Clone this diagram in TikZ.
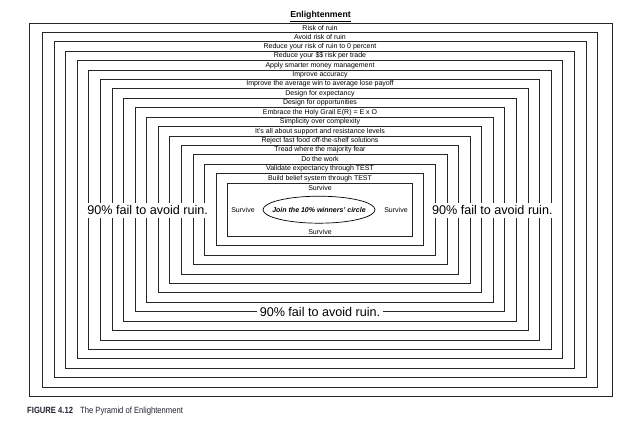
\documentclass[tikz,border=0pt]{standalone}
\usepackage{fontspec}
\setmainfont{Liberation Sans}
\newfontfamily\capfont[FakeStretch=0.85]{Liberation Sans}
\usetikzlibrary{positioning}
\definecolor{capdark}{HTML}{222233}

\begin{document}
\begin{tikzpicture}[x=1pt,y=-1pt,
    every node/.style={font=\fontsize{7}{8}\selectfont, inner sep=0pt},
    frame/.style={draw=black!85, line width=0.8pt},
    ruin/.style={fill=white, inner sep=2.5pt, font=\fontsize{12.6}{14}\selectfont}]
  \useasboundingbox (0,0) rectangle (625,431);
  % frames, outside in
  \draw[frame] (29,23) rectangle (612,396.7);
  \foreach \i in {2,...,18}{
    \pgfmathsetmacro{\hw}{277.5-11.58*(\i-2)}
    \pgfmathsetmacro{\hh}{186.85-9.43*(\i-1)}
    \draw[frame] (320-\hw,209.7-\hh) rectangle (320+\hw,209.7+\hh);
  }
  % steps
  \node[font=\bfseries\fontsize{8.7}{10}\selectfont] (title) at (320.5,16.3) {\underline{Enlightenment}};
  \foreach \txt [count=\i] in {Risk of ruin, Avoid risk of ruin,
      Reduce your risk of ruin to 0 percent, Reduce your \$\$ risk per trade,
      Apply smarter money management, Improve accuracy,
      Improve the average win to average lose payoff, Design for expectancy,
      Design for opportunities, Embrace the Holy Grail E(R) = E x O,
      Simplicity over complexity, It's all about support and resistance levels,
      Reject fast food off-the-shelf solutions, Tread where the majority fear,
      Do the work, Validate expectancy through TEST,
      Build belief system through TEST}{
    \node (band\i) at (320,{27.7+9.41*(\i-1)}) {\txt};
  }
  % centre
  \node (survT) at (320,187.8) {Survive};
  \node (survB) at (320,231.6) {Survive};
  \node (survL) at (243,209.7) {Survive};
  \node (survR) at (396,209.7) {Survive};
  \node[font=\bfseries\itshape\fontsize{7}{8}\selectfont] (winners) at (319,209.7) {Join the 10\% winners' circle};
  \draw[line width=0.7pt] (winners.center) ellipse [x radius=56, y radius=13.5];
  % ruin
  \node[ruin] (ruinL) at (147.7,210.4) {90\% fail to avoid ruin.};
  \node[ruin] (ruinR) at (492.3,210.4) {90\% fail to avoid ruin.};
  \node[ruin] (ruinB) at (320,312.2) {90\% fail to avoid ruin.};
  \node[anchor=west, text=capdark, font=\capfont\fontsize{9}{10}\selectfont] (caption) at (27,411)
    {\textbf{FIGURE 4.12}\hspace{7pt}The Pyramid of Enlightenment};
\end{tikzpicture}
\end{document}
